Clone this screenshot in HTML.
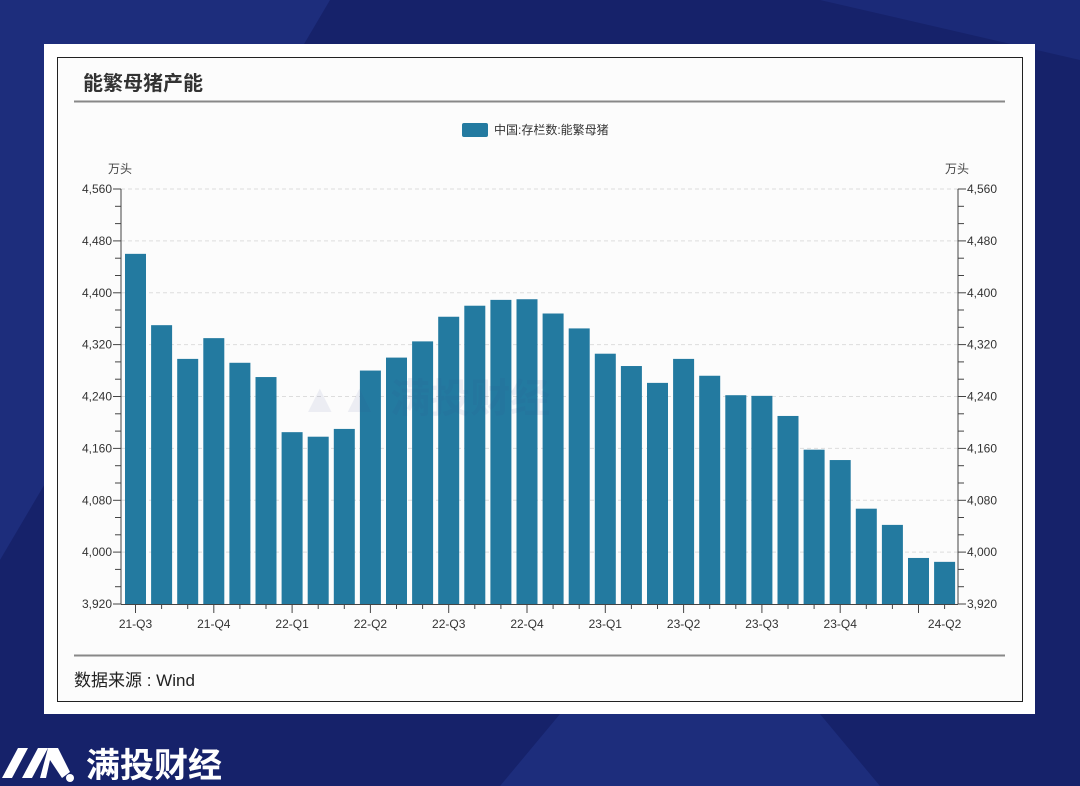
<!DOCTYPE html>
<html><head><meta charset="utf-8"><style>
html,body{margin:0;padding:0;width:1080px;height:786px;overflow:hidden;background:#16226a}
svg{display:block}
text{font-family:"Liberation Sans","Noto Sans CJK SC",sans-serif}
</style></head><body>
<svg id="s" width="1080" height="786" viewBox="0 0 1080 786" xmlns="http://www.w3.org/2000/svg">
<rect width="1080" height="786" fill="#16226a"/>
<polygon points="0,0 330,0 0,560" fill="#1d2d7c"/>
<polygon points="560,714 820,714 880,786 500,786" fill="#1d2d7c"/>
<polygon points="820,0 1080,0 1080,60" fill="#1b2a78"/>
<rect x="44" y="44" width="991" height="670" fill="#ffffff"/>
<rect x="57.5" y="57.5" width="965" height="644" fill="#fcfcfc" stroke="#222" stroke-width="1"/>
<text x="83" y="90" font-size="20" font-weight="bold" fill="#333">能繁母猪产能</text>
<line x1="74" y1="101.5" x2="1005" y2="101.5" stroke="#888" stroke-width="2"/>
<rect x="462" y="123" width="26" height="14" rx="2" fill="#237aa0"/>
<text x="494" y="134" font-size="12" fill="#333">中国:存栏数:能繁母猪</text>
<text x="108" y="173" font-size="12" fill="#444">万头</text>
<text x="945" y="173" font-size="12" fill="#444">万头</text>
<g id="g"></g>
<text x="300" y="412" font-size="40" fill="#3a4a90" opacity="0.08" font-weight="bold">▲▲ 满投财经</text>
<line x1="74" y1="655.5" x2="1005" y2="655.5" stroke="#888" stroke-width="2"/>
<text x="74" y="686" font-size="17" fill="#222">数据来源 : Wind</text>
<polygon points="2,778 18,748 28,748 12,778" fill="#fff"/>
<polygon points="22,778 38,748 48,748 32,778" fill="#fff"/>
<polygon points="40,778 48,748 58,748 70,772 62,778 50,760 46,778" fill="#fff"/>
<circle cx="70" cy="778" r="4" fill="#fff"/>
<text x="86" y="777" font-size="34" font-weight="bold" fill="#fff">满投财经</text>
</svg>
<script>
var g=document.getElementById('g'),h='';
function Y(v){return 189+(4560-v)*415/640;}
for(var k=0;k<=24;k++){var v=3920+k*80/3;var y=Y(v).toFixed(1),maj=k%3==0;
 if(maj&&k>0)h+='<line x1="121" y1="'+y+'" x2="958" y2="'+y+'" stroke="#ddd" stroke-dasharray="4,3"/>';
 h+='<line x1="'+(maj?113:115)+'" y1="'+y+'" x2="121" y2="'+y+'" stroke="#444"/>';
 h+='<line x1="958" y1="'+y+'" x2="'+(maj?966:964)+'" y2="'+y+'" stroke="#444"/>';
 if(maj){var s=Math.round(v).toString().replace(/(\d)(\d{3})$/,'$1,$2');
  h+='<text x="112" y="'+(+y+4)+'" font-size="12" fill="#333" text-anchor="end">'+s+'</text>';
  h+='<text x="967" y="'+(+y+4)+'" font-size="12" fill="#333">'+s+'</text>';}}
var d=[4460,4350,4298,4330,4292,4270,4185,4178,4190,4280,4300,4325,4363,4380,4389,4390,4368,4345,4306,4287,4261,4298,4272,4242,4241,4210,4158,4142,4067,4042,3991,3985];
for(var i=0;i<d.length;i++){var c=135.5+26.1*i,y=Y(d[i]);
 h+='<rect x="'+(c-10.5)+'" y="'+y+'" width="21" height="'+(604-y)+'" fill="#237aa0"/>';}
h+='<line x1="121" y1="189" x2="121" y2="604" stroke="#444"/><line x1="958" y1="189" x2="958" y2="604" stroke="#444"/>';
h+='<line x1="121" y1="604.5" x2="958" y2="604.5" stroke="#444"/>';
var L=['21-Q3','21-Q4','22-Q1','22-Q2','22-Q3','22-Q4','23-Q1','23-Q2','23-Q3','23-Q4'];
for(var i=0;i<32;i++){var c=135.5+26.1*i;var maj=i%3==0;
 h+='<line x1="'+c+'" y1="604" x2="'+c+'" y2="'+(maj?613:609)+'" stroke="#444"/>';
 if(maj&&i/3<10)h+='<text x="'+c+'" y="628" font-size="12" fill="#333" text-anchor="middle">'+L[i/3]+'</text>';}
h+='<text x="944.6" y="628" font-size="12" fill="#333" text-anchor="middle">24-Q2</text>';
g.innerHTML=h;
</script>
</body></html>
